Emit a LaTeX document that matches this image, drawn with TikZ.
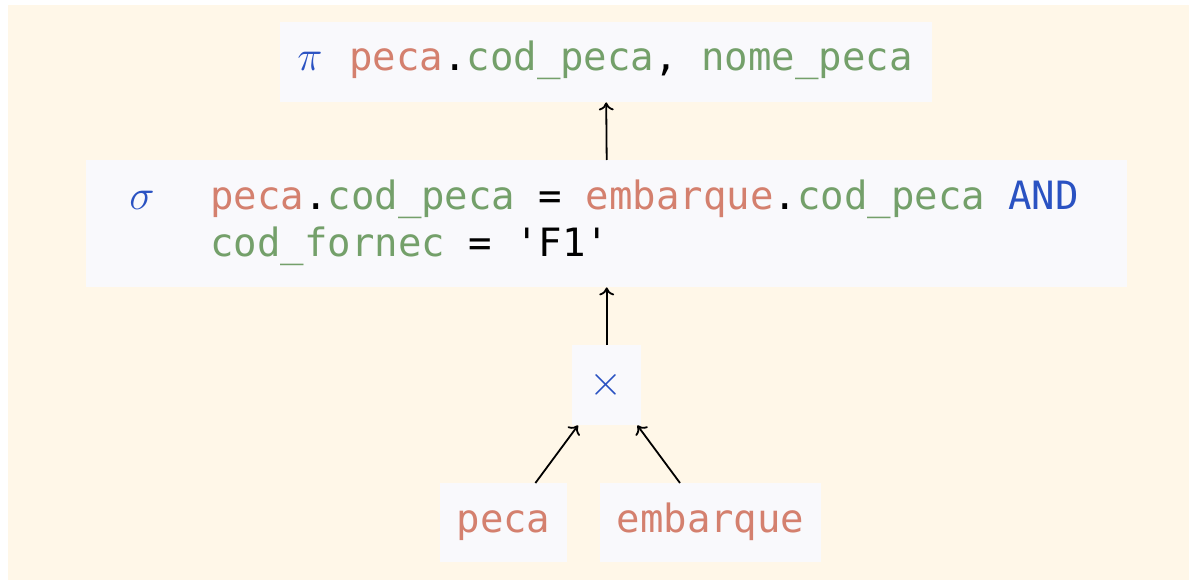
\RequirePackage{fix-cm}
\documentclass[tikz,border=0pt]{standalone}
\usepackage{fontspec}
\newfontfamily\codefont{DejaVu Sans Mono}
\usetikzlibrary{arrows.meta}

\definecolor{paper}{HTML}{FFF7E8}
\definecolor{boxfill}{HTML}{F9F9FC}
\definecolor{relname}{HTML}{D4806E}
\definecolor{attrname}{HTML}{74A06A}
\definecolor{opblue}{HTML}{2A52C2}

\tikzset{
  opbox/.style={fill=boxfill, draw=none, inner sep=0pt, anchor=north west},
  codetext/.style={inner sep=0pt, anchor=base west,
    font=\codefont\fontsize{39}{47}\selectfont},
  symtext/.style={inner sep=0pt, text=opblue, scale=2.05, transform shape,
    font=\fontsize{20.74}{25}\selectfont},
  arr/.style={draw=black, line width=1.8pt, -{To[length=8pt,width=15pt]}},
}
\newcommand{\rel}[1]{\textcolor{relname}{#1}}
\newcommand{\attr}[1]{\textcolor{attrname}{#1}}
\newcommand{\kw}[1]{\textcolor{opblue}{#1}}

\begin{document}
\begin{tikzpicture}[x=1pt, y=-1pt]
  \useasboundingbox (0,0) rectangle (1189,580);
  \fill[paper] (8,5) rectangle (1189,580);

  % operator boxes
  \node[opbox, minimum width=652pt, minimum height=80pt] (proj) at (280,22) {};
  \node[opbox, minimum width=1041pt, minimum height=127pt] (sel) at (86,160) {};
  \node[opbox, minimum width=69pt, minimum height=80pt] (prod) at (572,345) {};
  \node[opbox, minimum width=127pt, minimum height=79pt] (peca) at (440,483) {};
  \node[opbox, minimum width=221pt, minimum height=79pt] (emb) at (600,483) {};

  % projection
  \node[symtext, anchor=base west] (pisym) at (297,71) {$\pi$};
  \node[codetext] (projlist) at (349,71)
    {\rel{peca}.\attr{cod\_peca}, \attr{nome\_peca}};

  % selection
  \node[symtext, anchor=base west] (sigmasym) at (129,210) {$\sigma$};
  \node[codetext] (cond1) at (210,210)
    {\rel{peca}.\attr{cod\_peca} = \rel{embarque}.\attr{cod\_peca} \kw{AND}};
  \node[codetext] (cond2) at (210,257)
    {\attr{cod\_fornec} = 'F1'};

  % cartesian product
  \node[symtext] (timessym) at (606.5,385) {$\times$};

  % base relations
  \node[codetext, anchor=base] (pecatext) at (503.5,532) {\rel{peca}};
  \node[codetext, anchor=base] (embtext) at (710.5,532) {\rel{embarque}};

  % data flow
  \draw[arr] (sel.north) -- (proj.south);
  \draw[arr] (prod.north) -- (sel.south);
  \draw[arr] ([xshift=-32pt]peca.north east) -- ([xshift=6pt]prod.south west);
  \draw[arr] ([xshift=80pt]emb.north west) -- ([xshift=-4pt]prod.south east);
\end{tikzpicture}
\end{document}
